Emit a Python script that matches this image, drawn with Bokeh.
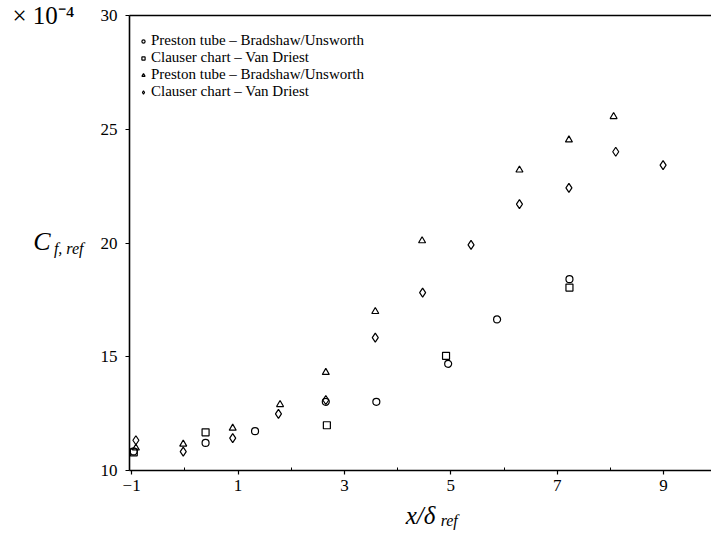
from bokeh.plotting import figure
from bokeh.models import Range1d, LinearAxis, FixedTicker, Legend, LegendItem
from bokeh.embed import file_html
from bokeh.resources import INLINE

# --- data (x/delta_ref, Cf_ref in units of 1e-4) ---
circ_x = [-0.96, 0.39, 1.32, 2.65, 3.60, 4.95, 5.87, 7.23]
circ_y = [10.84, 11.21, 11.73, 13.02, 13.02, 14.69, 16.64, 18.41]

sq_x = [-0.96, 0.39, 2.67, 4.91, 7.23]
sq_y = [10.80, 11.68, 11.99, 15.04, 18.04]

tri_x = [-0.92, -0.03, 0.90, 1.79, 2.65, 3.58, 4.46, 6.29, 7.22, 8.06]
tri_y = [10.99, 11.16, 11.86, 12.90, 14.31, 16.99, 20.10, 23.21, 24.53, 25.56]

dia_x = [-0.92, -0.03, 0.90, 1.76, 2.65, 3.58, 4.47, 5.38, 6.29, 7.22, 8.10, 8.99]
dia_y = [11.33, 10.83, 11.42, 12.49, 13.10, 15.84, 17.82, 19.92, 21.71, 22.42, 24.01, 23.42]

labels = ["Preston tube \u2013 Bradshaw/Unsworth",
          "Clauser chart \u2013 Van Driest",
          "Preston tube \u2013 Bradshaw/Unsworth",
          "Clauser chart \u2013 Van Driest"]

x_ticks = [-1, 1, 3, 5, 7, 9]
x_minor = [0, 2, 4, 6, 8]
y_ticks = [10, 15, 20, 25, 30]

FONT = "Liberation Serif"
LEFT, BOTTOM_PAD, TOP_PAD = 129, 71, 15
W, H = 711, 541

p = figure(width=W, height=H, x_range=Range1d(-1.04, 9.9), y_range=Range1d(10, 30),
           output_backend="svg", toolbar_location=None, x_axis_type=None, y_axis_type=None,
           min_border_left=LEFT, min_border_right=0, min_border_top=TOP_PAD,
           min_border_bottom=BOTTOM_PAD)
p.outline_line_color = None
p.background_fill_color = "white"
p.border_fill_color = "white"

xaxis = LinearAxis(ticker=FixedTicker(ticks=x_ticks, minor_ticks=x_minor),
                   major_tick_in=0, major_tick_out=4, minor_tick_in=3, minor_tick_out=0,
                   axis_line_width=1.6, major_tick_line_width=1.2,
                   major_label_text_font=FONT, major_label_text_font_size="17px",
                   major_label_text_color="black",
                   major_label_standoff=5,
                   major_label_overrides={-1: "\u22121"},
                   axis_label="x/\u03b4", axis_label_standoff=8,
                   axis_label_text_font=FONT, axis_label_text_font_style="italic",
                   axis_label_text_font_size="25px", axis_label_text_color="black")
p.add_layout(xaxis, "below")

yaxis = LinearAxis(ticker=FixedTicker(ticks=y_ticks),
                   major_tick_in=0, major_tick_out=4, minor_tick_in=0, minor_tick_out=0,
                   axis_line_width=1.6, major_tick_line_width=1.2,
                   major_label_text_font=FONT, major_label_text_font_size="17px",
                   major_label_text_color="black",
                   major_label_standoff=8)
p.add_layout(yaxis, "left")

topaxis = LinearAxis(ticker=FixedTicker(ticks=[]), major_tick_in=0, major_tick_out=0,
                     minor_tick_in=0, minor_tick_out=0, axis_line_width=1.3,
                     major_label_text_font_size="0px")
p.add_layout(topaxis, "above")


def text_axis(side, pos, text, size, style, standoff):
    """An axis without line or ticks whose single tick label carries a piece of text."""
    ax = LinearAxis(ticker=FixedTicker(ticks=[pos], minor_ticks=[]),
                    major_label_overrides={pos: text},
                    axis_line_color=None, major_tick_line_color=None,
                    minor_tick_line_color=None,
                    major_tick_in=0, major_tick_out=0, minor_tick_in=0, minor_tick_out=0,
                    major_label_text_font=FONT, major_label_text_font_style=style,
                    major_label_text_font_size=size, major_label_text_color="black",
                    major_label_standoff=standoff)
    p.add_layout(ax, side)


# y-axis title C_{f, ref} (subscript slightly lower) and the x 10^-4 multiplier
text_axis("left", 19.75, "f, ref", "16px", "italic", 14)
text_axis("left", 20.05, "C", "26px", "italic", 0)
text_axis("left", 30, "\u00d7 10\u207b\u2074", "25px", "normal", -44)
# subscript of the x-axis title
text_axis("below", 4.97, "ref", "16px", "italic", -20)

kw = dict(fill_color=None, line_color="black", line_width=1.2)
r1 = p.scatter(circ_x, circ_y, marker="circle", size=7, **kw)
r2 = p.scatter(sq_x, sq_y, marker="square", size=7, **kw)
r3 = p.scatter(tri_x, tri_y, marker="triangle", size=7, **kw)
r4 = p.scatter(dia_x, dia_y, marker="diamond", size=9, **kw)

legend = Legend(items=[LegendItem(label=labels[0], renderers=[r1]),
                       LegendItem(label=labels[1], renderers=[r2]),
                       LegendItem(label=labels[2], renderers=[r3]),
                       LegendItem(label=labels[3], renderers=[r4])],
                location=(10, 370), border_line_color=None, background_fill_alpha=0,
                label_text_font=FONT, label_text_font_size="15px",
                label_text_color="black",
                glyph_width=8, glyph_height=16, label_height=16, spacing=0,
                padding=0, margin=0, label_standoff=4)
p.add_layout(legend, "center")

open("out.html", "w").write(file_html(p, INLINE))
